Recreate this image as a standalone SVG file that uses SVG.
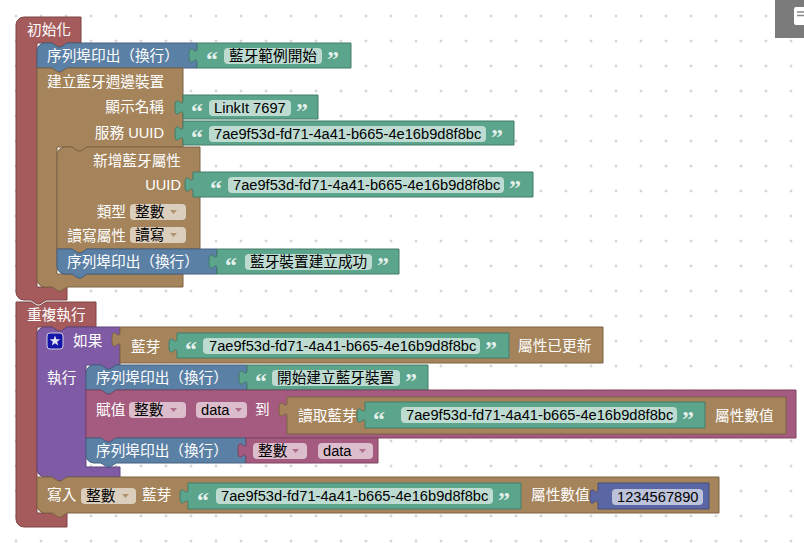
<svg xmlns="http://www.w3.org/2000/svg" width="804" height="543" viewBox="0 0 804 543">
<defs>
<pattern id="grid" x="4" y="4" width="25" height="25" patternUnits="userSpaceOnUse">
<path d="M10.5,12 H13.5 M12,10.5 V13.5" stroke="#c8c8c8" stroke-width="1"/>
</pattern>
</defs>
<style>
.lbl{font-family:"Liberation Sans","Noto Sans CJK TC",sans-serif;font-size:14.67px;fill:#fff}
.fld{font-family:"Liberation Sans","Noto Sans CJK TC",sans-serif;font-size:14.67px;fill:#000}
.q{font-family:"Liberation Serif",serif;font-weight:bold;font-size:24px;fill:#fff;fill-opacity:.85}
.fb{fill:#fff;fill-opacity:.6}
.red{fill:#a55b5b;stroke:#7c4444}
.blue{fill:#5b80a5;stroke:#446080}
.green{fill:#5ba58c;stroke:#447c69}
.brown{fill:#a5845b;stroke:#7c6344}
.purple{fill:#805ba5;stroke:#60447c}
.pink{fill:#a55b80;stroke:#7c4460}
.num{fill:#5b67a5;stroke:#444d7c}
.ab{fill:#a5845b;fill-opacity:.8}
.ap{fill:#a55b80;fill-opacity:.8}
</style>
<rect width="804" height="543" fill="#fff"/>
<rect width="804" height="543" fill="url(#grid)"/>

<g id="init">
<path class="red" d="M16,25 a8,8 0 0 1 8,-8 H81 V43 H67 l-6,4 h-3 l-6,-4 H37 V287 H67 V300 H46 l-6,4 h-3 l-6,-4 H24 a8,8 0 0 1 -8,-8 Z"/>
<text class="lbl" x="27" y="35">初始化</text>
</g>
<g id="print1">
<path class="blue" d="M37,51 a8,8 0 0 1 8,-8 H52 l6,4 h3 l6,-4 H197 V68 H67 l-6,4 h-3 l-6,-4 H37 Z"/>
<text class="lbl" x="47" y="61">序列埠印出（換行）</text>
</g>
<g id="text1">
<path class="green" d="M197,43 H351 V68 H197 V63 c0,-10 -8,8 -8,-7.5 s8,2.5 8,-7.5 Z"/>
<text class="q" x="206" y="67">“</text>
<rect class="fb" x="224" y="48" width="98" height="16" rx="4"/>
<text class="fld" x="229" y="61">藍牙範例開始</text>
<text class="q" x="327" y="67">”</text>
</g>
<g id="create_device">
<path class="brown" d="M37,68 H52 l6,4 h3 l6,-4 H183 V147 H87 l-6,4 h-3 l-6,-4 H57 V274 H183 V287 H67 l-6,4 h-3 l-6,-4 H45 a8,8 0 0 1 -8,-8 Z"/>
<text class="lbl" x="47" y="87">建立藍牙週邊裝置</text>
<text class="lbl" x="164" y="112" text-anchor="end">顯示名稱</text>
<text class="lbl" x="164" y="138" text-anchor="end">服務 UUID</text>
</g>
<g id="text_name">
<path class="green" d="M183,95 H318 V119 H183 V115 c0,-10 -8,8 -8,-7.5 s8,2.5 8,-7.5 Z"/>
<text class="q" x="191" y="119">“</text>
<rect class="fb" x="209" y="100" width="82" height="16" rx="4"/>
<text class="fld" x="214" y="113">LinkIt 7697</text>
<text class="q" x="296" y="119">”</text>
</g>
<g id="text_uuid1">
<path class="green" d="M183,121 H514 V145 H183 V141 c0,-10 -8,8 -8,-7.5 s8,2.5 8,-7.5 Z"/>
<text class="q" x="191" y="145">“</text>
<rect class="fb" x="209" y="126" width="277" height="16" rx="4"/>
<text class="fld" x="214" y="139">7ae9f53d-fd71-4a41-b665-4e16b9d8f8bc</text>
<text class="q" x="491" y="145">”</text>
</g>
<g id="add_char">
<path class="brown" d="M57,155 a8,8 0 0 1 8,-8 H72 l6,4 h3 l6,-4 H200 V249 H87 l-6,4 h-3 l-6,-4 H57 Z"/>
<text class="lbl" x="181" y="166" text-anchor="end">新增藍牙屬性</text>
<text class="lbl" x="181" y="190" text-anchor="end">UUID</text>
<text class="lbl" x="126" y="217" text-anchor="end">類型</text>
<rect class="fb" x="130" y="204" width="56" height="16" rx="4"/>
<text class="fld" x="135" y="217">整數</text>
<polygon class="ab" points="170,210 177,210 173.5,214"/>
<text class="lbl" x="126" y="241" text-anchor="end">讀寫屬性</text>
<rect class="fb" x="130" y="227" width="56" height="16" rx="4"/>
<text class="fld" x="135" y="240">讀寫</text>
<polygon class="ab" points="170,233 177,233 173.5,237"/>
</g>
<g id="text_uuid2">
<path class="green" d="M193,172 H533 V197 H193 V192 c0,-10 -8,8 -8,-7.5 s8,2.5 8,-7.5 Z"/>
<text class="q" x="210" y="196">“</text>
<rect class="fb" x="228" y="177" width="276" height="16" rx="4"/>
<text class="fld" x="233" y="190">7ae9f53d-fd71-4a41-b665-4e16b9d8f8bc</text>
<text class="q" x="509" y="196">”</text>
</g>
<g id="print2">
<path class="blue" d="M57,249 H72 l6,4 h3 l6,-4 H217 V274 H87 l-6,4 h-3 l-6,-4 H65 a8,8 0 0 1 -8,-8 Z"/>
<text class="lbl" x="67" y="267">序列埠印出（換行）</text>
</g>
<g id="text2">
<path class="green" d="M217,249 H399 V274 H217 V269 c0,-10 -8,8 -8,-7.5 s8,2.5 8,-7.5 Z"/>
<text class="q" x="225" y="273">“</text>
<rect class="fb" x="245" y="254" width="127" height="16" rx="4"/>
<text class="fld" x="250" y="267">藍牙裝置建立成功</text>
<text class="q" x="377" y="273">”</text>
</g>

<g id="loop">
<path class="red" d="M16,302 H31 l6,4 h3 l6,-4 H96 V327 H67 l-6,4 h-3 l-6,-4 H37 V513 H67 V527 H24 a8,8 0 0 1 -8,-8 Z"/>
<text class="lbl" x="27" y="320">重複執行</text>
</g>
<g id="if_block">
<path class="purple" d="M37,335 a8,8 0 0 1 8,-8 H52 l6,4 h3 l6,-4 H120 V365 H116 l-6,4 h-3 l-6,-4 H86 V467 H120 V477 H67 l-6,4 h-3 l-6,-4 H45 a8,8 0 0 1 -8,-8 Z"/>
<rect x="47" y="333" width="16" height="16" rx="3" fill="#1414a8" stroke="#d0d0e0" stroke-width="1"/>
<polygon fill="#e4e4f4" points="55,335.5 56.35,339.14 60.23,339.3 57.19,341.71 58.23,345.45 55,343.3 51.77,345.45 52.81,341.71 49.77,339.3 53.65,339.14"/>
<text class="lbl" x="73" y="346">如果</text>
<text class="lbl" x="47" y="383">執行</text>
</g>
<g id="ble_updated">
<path class="brown" d="M120,327 H603 V363 H120 V347 c0,-10 -8,8 -8,-7.5 s8,2.5 8,-7.5 Z"/>
<text class="lbl" x="131" y="352">藍芽</text>
<text class="lbl" x="518" y="351">屬性已更新</text>
</g>
<g id="text_uuid3">
<path class="green" d="M177,333 H509 V358 H177 V353 c0,-10 -8,8 -8,-7.5 s8,2.5 8,-7.5 Z"/>
<text class="q" x="185" y="357">“</text>
<rect class="fb" x="203" y="338" width="277" height="16" rx="4"/>
<text class="fld" x="209" y="351">7ae9f53d-fd71-4a41-b665-4e16b9d8f8bc</text>
<text class="q" x="485" y="357">”</text>
</g>
<g id="print3">
<path class="blue" d="M86,373 a8,8 0 0 1 8,-8 H101 l6,4 h3 l6,-4 H247 V390 H116 l-6,4 h-3 l-6,-4 H86 Z"/>
<text class="lbl" x="96" y="383">序列埠印出（換行）</text>
</g>
<g id="text3">
<path class="green" d="M247,365 H428 V390 H247 V385 c0,-10 -8,8 -8,-7.5 s8,2.5 8,-7.5 Z"/>
<text class="q" x="255" y="389">“</text>
<rect class="fb" x="272" y="370" width="128" height="16" rx="4"/>
<text class="fld" x="277" y="383">開始建立藍牙裝置</text>
<text class="q" x="405" y="389">”</text>
</g>
<g id="assign">
<path class="pink" d="M86,390 H101 l6,4 h3 l6,-4 H796 V438 H116 l-6,4 h-3 l-6,-4 H86 Z"/>
<text class="lbl" x="96" y="415">賦值</text>
<rect class="fb" x="129" y="402" width="57" height="16" rx="4"/>
<text class="fld" x="134" y="415">整數</text>
<polygon class="ap" points="170,408 177,408 173.5,412"/>
<rect class="fb" x="196" y="402" width="51" height="16" rx="4"/>
<text class="fld" x="201" y="415">data</text>
<polygon class="ap" points="235,408 242,408 238.5,412"/>
<text class="lbl" x="255" y="415">到</text>
</g>
<g id="ble_read">
<path class="brown" d="M287,397 H786 V434 H287 V417 c0,-10 -8,8 -8,-7.5 s8,2.5 8,-7.5 Z"/>
<text class="lbl" x="298" y="421">讀取藍芽</text>
<text class="lbl" x="715" y="421">屬性數值</text>
</g>
<g id="text_uuid4">
<path class="green" d="M365,402 H705 V428 H365 V423 c0,-10 -8,8 -8,-7.5 s8,2.5 8,-7.5 Z"/>
<text class="q" x="373" y="427">“</text>
<rect class="fb" x="401" y="407" width="276" height="16" rx="4"/>
<text class="fld" x="406" y="420">7ae9f53d-fd71-4a41-b665-4e16b9d8f8bc</text>
<text class="q" x="682" y="427">”</text>
</g>
<g id="print4">
<path class="blue" d="M86,438 H101 l6,4 h3 l6,-4 H246 V463 H116 l-6,4 h-3 l-6,-4 H94 a8,8 0 0 1 -8,-8 Z"/>
<text class="lbl" x="96" y="456">序列埠印出（換行）</text>
</g>
<g id="var_get">
<path class="pink" d="M246,438 H378 V463 H246 V458 c0,-10 -8,8 -8,-7.5 s8,2.5 8,-7.5 Z"/>
<rect class="fb" x="253" y="443" width="54" height="16" rx="4"/>
<text class="fld" x="258" y="456">整數</text>
<polygon class="ap" points="292,449 299,449 295.5,453"/>
<rect class="fb" x="318" y="443" width="55" height="16" rx="4"/>
<text class="fld" x="323" y="456">data</text>
<polygon class="ap" points="359,449 366,449 362.5,453"/>
</g>
<g id="ble_write">
<path class="brown" d="M37,477 H52 l6,4 h3 l6,-4 H719 V513 H67 l-6,4 h-3 l-6,-4 H45 a8,8 0 0 1 -8,-8 Z"/>
<text class="lbl" x="47" y="500">寫入</text>
<rect class="fb" x="81" y="488" width="55" height="16" rx="4"/>
<text class="fld" x="86" y="501">整數</text>
<polygon class="ab" points="122,494 129,494 125.5,498"/>
<text class="lbl" x="142" y="500">藍芽</text>
<text class="lbl" x="531" y="500">屬性數值</text>
</g>
<g id="text_uuid5">
<path class="green" d="M188,483 H521 V509 H188 V504 c0,-10 -8,8 -8,-7.5 s8,2.5 8,-7.5 Z"/>
<text class="q" x="197" y="508">“</text>
<rect class="fb" x="216" y="488" width="277" height="16" rx="4"/>
<text class="fld" x="221" y="501">7ae9f53d-fd71-4a41-b665-4e16b9d8f8bc</text>
<text class="q" x="498" y="508">”</text>
</g>
<g id="num">
<path class="num" d="M598,483 H709 V509 H598 V504 c0,-10 -8,8 -8,-7.5 s8,2.5 8,-7.5 Z"/>
<rect class="fb" x="612" y="489" width="91" height="16" rx="4"/>
<text class="fld" x="617" y="502">1234567890</text>
</g>
<g id="connectors"></g>
<g id="toolbar">
<rect x="775" y="0" width="29" height="38" fill="#7b7b7b"/>
<rect x="794" y="7" width="14" height="18" rx="2" fill="#fff"/>
<path d="M797,12 H804 M797,15.5 H804" stroke="#888" stroke-width="1.5"/>
</g>
</svg>
